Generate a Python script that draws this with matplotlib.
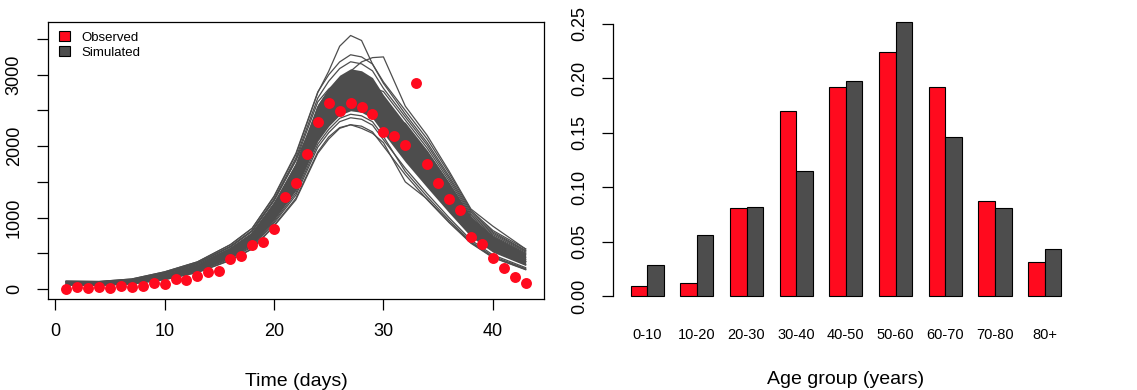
import numpy as np
import matplotlib
matplotlib.use("Agg")
import matplotlib.pyplot as plt
from matplotlib.patches import Patch

plt.rcParams['font.family'] = ['Liberation Sans', 'DejaVu Sans']

RED = '#FF0A1E'
GREY = '#4D4D4D'

# observed daily counts
days = np.arange(1, 44)
observed = [0, 24, 10, 33, 19, 47, 33, 47, 79, 70, 140, 126, 182, 233, 257,
            415, 462, 616, 663, 845, 1286, 1484, 1890, 2343, 2610, 2488, 2600,
            2549, 2451, 2203, 2143, 2012, 2881, 1746, 1480, 1265, 1106, 733,
            626, 434, 294, 164, 79]

# simulated runs, read off at these days
sim_days = [1, 4, 7, 10, 13, 16, 18, 20, 22, 24, 25, 26, 27, 28, 29, 30, 32, 34, 36, 38, 40, 43]
sim_runs = [
    [55, 50, 70, 130, 230, 400, 560, 880, 1250, 1900, 2100, 2250, 2300, 2280, 2200, 2000, 1600, 1250, 930, 640, 440, 270],
    [61, 56, 77, 141, 245, 422, 589, 922, 1315, 1986, 2190, 2343, 2398, 2377, 2295, 2090, 1690, 1335, 999, 686, 478, 299],
    [63, 58, 80, 146, 252, 433, 603, 943, 1347, 2029, 2235, 2390, 2447, 2425, 2343, 2135, 1645, 1292, 965, 663, 459, 285],
    [69, 64, 88, 158, 268, 455, 633, 985, 1413, 2115, 2325, 2483, 2545, 2523, 2438, 2225, 1825, 1463, 1103, 755, 535, 343],
    [69, 64, 88, 158, 268, 455, 633, 985, 1575, 2545, 2775, 2948, 3035, 3008, 2770, 2540, 1960, 1590, 1206, 824, 592, 386],
    [77, 72, 98, 174, 290, 488, 676, 1048, 1510, 2244, 2460, 2622, 2692, 2668, 2580, 2360, 1960, 1590, 1206, 824, 592, 386],
    [82, 78, 105, 185, 305, 510, 705, 1090, 1575, 2330, 2550, 2715, 2790, 2765, 2675, 2450, 2050, 1675, 1275, 870, 630, 415],
    [88, 83, 112, 196, 320, 532, 734, 1132, 1640, 2416, 2640, 2808, 2888, 2862, 2770, 2540, 2140, 1760, 1344, 916, 668, 444],
    [96, 91, 123, 213, 343, 565, 778, 1195, 1640, 2158, 2370, 2529, 2594, 2571, 2675, 2450, 2320, 1930, 1482, 1008, 744, 502],
    [96, 91, 123, 213, 343, 565, 778, 1195, 1738, 2545, 2775, 2948, 3035, 3008, 2913, 2675, 2275, 1888, 1448, 985, 725, 488],
    [102, 97, 130, 224, 358, 587, 807, 1237, 1803, 2460, 2685, 2855, 2937, 2910, 2818, 2765, 2365, 1973, 1517, 1031, 763, 517],
    [105, 100, 133, 229, 365, 598, 821, 1258, 1835, 2674, 2910, 3087, 3182, 3153, 3055, 2810, 2410, 2015, 1551, 1054, 782, 531],
    [110, 105, 140, 240, 380, 620, 850, 1300, 1900, 2760, 3000, 3180, 3280, 3250, 3150, 2900, 2500, 2100, 1620, 1100, 820, 560],
    [110, 105, 140, 240, 380, 620, 850, 1290, 1880, 2750, 3050, 3400, 3550, 3480, 3150, 2880, 2450, 2050, 1580, 1080, 800, 540],
    [100, 95, 130, 225, 360, 590, 810, 1240, 1800, 2620, 2800, 2900, 3050, 3180, 3240, 3250, 2560, 2150, 1650, 1120, 880, 560],
    [55, 52, 72, 133, 235, 405, 565, 890, 1270, 1920, 2130, 2260, 2300, 2250, 2180, 2050, 1500, 1260, 940, 650, 445, 275],
]
# dense middle of the ensemble
core_lo = [65, 60, 83, 152, 260, 444, 618, 964, 1380, 2072, 2280, 2436, 2496, 2474, 2390, 2180, 1780, 1420, 1068, 732, 516, 328]
core_hi = [99, 94, 126, 218, 350, 576, 792, 1216, 1770, 2588, 2820, 2994, 3084, 3056, 2960, 2720, 2320, 1930, 1482, 1008, 744, 502]

# age distribution
age_groups = ['0-10', '10-20', '20-30', '30-40', '40-50', '50-60', '60-70', '70-80', '80+']
age_obs = [0.0095, 0.0122, 0.081, 0.170, 0.192, 0.224, 0.192, 0.0878, 0.0312]
age_sim = [0.0284, 0.056, 0.0817, 0.115, 0.1976, 0.2517, 0.146, 0.0807, 0.0437]

fig = plt.figure(figsize=(11.37, 3.90), dpi=100)

# left panel
ax1 = fig.add_axes([0.042, 0.2326, 0.4365, 0.711])
ax1.fill_between(sim_days, core_lo, core_hi, color=GREY, lw=0)
for run in sim_runs:
    ax1.plot(sim_days, run, color=GREY, lw=0.9)
ax1.scatter(days, observed, s=62, color=RED, zorder=5, linewidths=0)
ax1.set_xlim(-0.68, 44.68)
ax1.set_ylim(-144, 3739)
ax1.set_xticks([0, 10, 20, 30, 40])
ax1.set_yticks(np.arange(0, 3501, 500))
ax1.set_yticklabels(['0', '', '1000', '', '2000', '', '3000', ''], rotation=90, va='center')
ax1.tick_params(axis='both', labelsize=13, length=8, width=0.9)
ax1.tick_params(axis='x', pad=9)
ax1.tick_params(axis='y', pad=10)
for s in ax1.spines.values():
    s.set_linewidth(0.9)
ax1.set_xlabel('Time (days)', fontsize=14, labelpad=24)
leg = ax1.legend(handles=[Patch(facecolor=RED, edgecolor='black', lw=0.8, label='Observed'),
                          Patch(facecolor=GREY, edgecolor='black', lw=0.8, label='Simulated')],
                 loc='upper left', bbox_to_anchor=(0.023, 0.967), frameon=False,
                 fontsize=9.5, handlelength=0.8, handleheight=0.8, handletextpad=0.9,
                 labelspacing=0.18, borderpad=0, borderaxespad=0)

# right panel
ax2 = fig.add_axes([0.5394, 0.2123, 0.4092, 0.7595])
grp = np.arange(len(age_groups)) * 3
ax2.bar(grp + 1, age_obs, width=1, align='edge', color=RED, edgecolor='black', lw=0.8)
ax2.bar(grp + 2, age_sim, width=1, align='edge', color=GREY, edgecolor='black', lw=0.8)
ax2.set_xlim(-0.04, 28.04)
ax2.set_ylim(-0.0101, 0.2618)
for side in ['top', 'right', 'bottom']:
    ax2.spines[side].set_visible(False)
ax2.spines['left'].set_bounds(0, 0.25)
ax2.spines['left'].set_linewidth(0.9)
ax2.set_yticks(np.arange(0, 0.251, 0.05))
ax2.set_yticklabels(['%.2f' % v for v in np.arange(0, 0.251, 0.05)], rotation=90, va='center')
ax2.tick_params(axis='y', labelsize=13, length=8, width=0.9, pad=10)
ax2.set_xticks(grp + 2)
ax2.set_xticklabels(age_groups, fontsize=10.5)
ax2.tick_params(axis='x', length=0, pad=15)
ax2.set_xlabel('Age group (years)', fontsize=14, labelpad=21)

fig.savefig('out.png', dpi=100)
